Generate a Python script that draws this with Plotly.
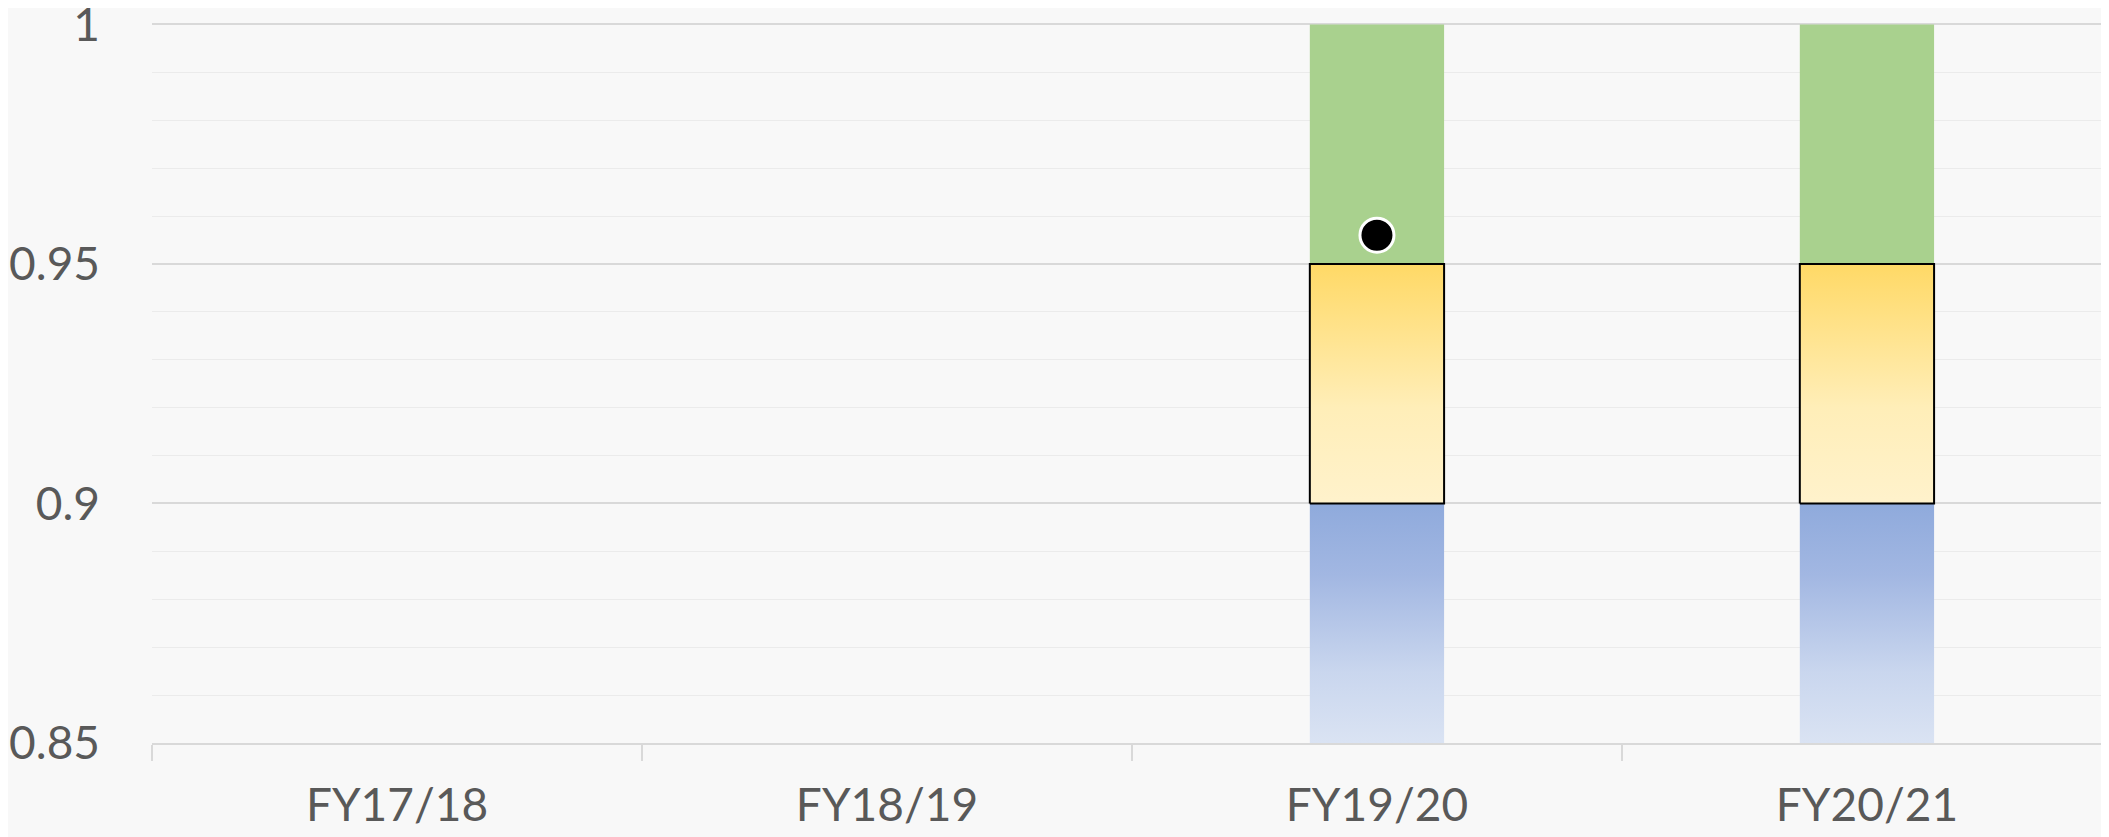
import plotly.graph_objects as go

# ---- data ----
categories = ["FY17/18", "FY18/19", "FY19/20", "FY20/21"]
blue_low = [None, None, 0.85, 0.85]
blue_high = [None, None, 0.90, 0.90]
yellow_low = [None, None, 0.90, 0.90]
yellow_high = [None, None, 0.95, 0.95]
green_low = [None, None, 0.95, 0.95]
green_high = [None, None, 1.00, 1.00]
actual = [None, None, 0.956, None]
y_ticks = [0.85, 0.9, 0.95, 1]
y_ticktext = ["0.85", "0.9", "0.95", "1"]

# ---- style ----
BAR_HALF = 0.137
FONT = "Lato"
TXT = "#595959"
BG = "#f8f8f8"

fig = go.Figure()


def band(lows, highs, colorscale, line_color=None, line_width=0, name=""):
    for i, (lo, hi) in enumerate(zip(lows, highs)):
        if lo is None or hi is None:
            continue
        xs = [i - BAR_HALF, i + BAR_HALF, i + BAR_HALF, i - BAR_HALF, i - BAR_HALF]
        ys = [lo, lo, hi, hi, lo]
        fig.add_trace(go.Scatter(
            x=xs, y=ys, mode="lines", fill="toself",
            fillgradient=dict(type="vertical", colorscale=colorscale, start=lo, stop=hi),
            line=dict(color=line_color if line_color else "rgba(0,0,0,0)", width=line_width),
            hoverinfo="skip", showlegend=False, name=name, cliponaxis=False,
        ))


band(blue_low, blue_high, [[0, "#dae3f3"], [0.3, "#c9d6ee"], [0.7, "#a2b7e2"], [1, "#8faadc"]], name="blue")
band(green_low, green_high, [[0, "#a9d18e"], [1, "#a9d18e"]], name="green")
band(yellow_low, yellow_high, [[0, "#fff2cc"], [0.4, "#ffeeb8"], [1, "#ffd966"]],
     line_color="#000000", line_width=2, name="yellow")

ax = [i for i, v in enumerate(actual) if v is not None]
ay = [v for v in actual if v is not None]
fig.add_trace(go.Scatter(
    x=ax, y=ay, mode="markers",
    marker=dict(size=34, color="#000000", line=dict(color="#ffffff", width=3)),
    showlegend=False, hoverinfo="skip",
))

# page body has an 8px default margin, so the figure is sized to fit the window
fig.update_layout(
    width=2101, height=829,
    margin=dict(l=144, r=0, t=14, b=94, autoexpand=False),
    paper_bgcolor=BG, plot_bgcolor=BG,
    font=dict(family=FONT, size=46, color=TXT),
    showlegend=False,
)

fig.update_xaxes(
    range=[-0.5, len(categories) - 0.506],
    tickmode="array", tickvals=list(range(len(categories))), ticktext=categories,
    ticks="outside", ticklen=0, tickcolor="#d9d9d9",
    minor=dict(tickmode="linear", tick0=-0.5, dtick=1, ticks="outside", ticklen=16,
               tickcolor="#d9d9d9", tickwidth=1.5, showgrid=False),
    showgrid=False, zeroline=False, automargin=False,
    showline=True, linecolor="#d9d9d9", linewidth=1.5,
    ticklabelstandoff=21, ticklabeloverflow="allow",
    tickfont=dict(family=FONT, size=46, color=TXT),
)

fig.update_yaxes(
    range=[0.85, 1.0005],
    tickmode="array", tickvals=y_ticks, ticktext=y_ticktext,
    ticks="", showgrid=True, gridcolor="#d9d9d9", gridwidth=1.5,
    minor=dict(tickmode="linear", tick0=0.85, dtick=0.01, showgrid=True,
               gridcolor="#ebebeb", gridwidth=1.2),
    zeroline=False, showline=False, automargin=False,
    ticklabelstandoff=51, ticklabeloverflow="allow",
    tickfont=dict(family=FONT, size=46, color=TXT),
)

fig.write_html("out.html")
